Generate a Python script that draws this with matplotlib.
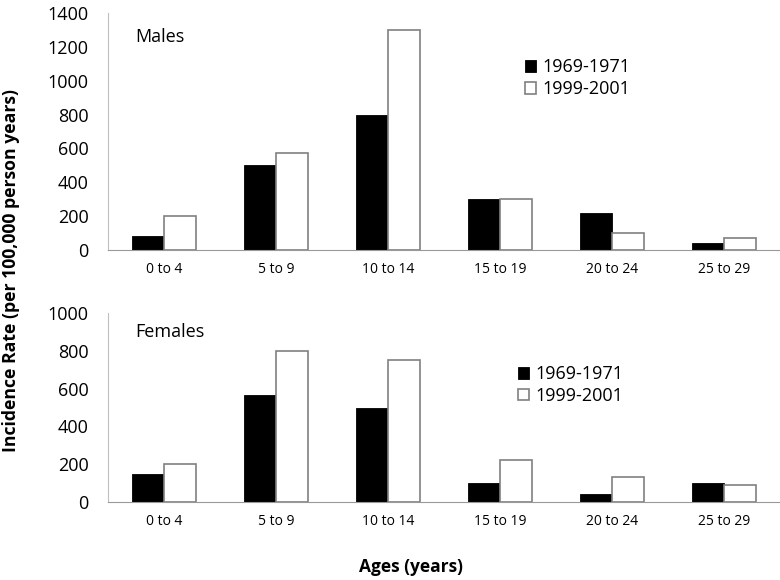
import matplotlib
matplotlib.use("Agg")
import matplotlib.pyplot as plt
import numpy as np

plt.rcParams['font.family'] = ['Open Sans', 'DejaVu Sans']

# data
ages = ['0 to 4', '5 to 9', '10 to 14', '15 to 19', '20 to 24', '25 to 29']
males_1969 = [80, 500, 800, 300, 220, 40]
males_1999 = [200, 575, 1300, 300, 100, 70]
females_1969 = [150, 568, 500, 100, 40, 100]
females_1999 = [200, 798, 750, 220, 130, 90]
periods = ['1969-1971', '1999-2001']

fig = plt.figure(figsize=(7.8, 5.8), dpi=100)
ax1 = fig.add_axes([0.1385, 0.569, 0.8615, 0.4086])
ax2 = fig.add_axes([0.1385, 0.1345, 0.8615, 0.3258])

x = np.arange(len(ages))
w = 0.2857
edge = '#808080'


def draw(ax, black, white, ymax, step, title, leg_xy):
    ax.bar(x - w / 2, black, w, color='black', edgecolor='black', linewidth=0.6, label=periods[0])
    ax.bar(x + w / 2, white, w, color='white', edgecolor=edge, linewidth=1.2, label=periods[1])
    ax.set_xlim(-0.5, len(ages) - 0.5)
    ax.set_ylim(0, ymax)
    ax.set_yticks(np.arange(0, ymax + 1, step))
    ax.set_xticks(x)
    ax.set_xticklabels(ages, fontsize=10)
    ax.tick_params(axis='y', labelsize=13, length=0, pad=14)
    ax.tick_params(axis='x', length=0, pad=9)
    for s in ['top', 'right']:
        ax.spines[s].set_visible(False)
    ax.spines['left'].set_color('#bfbfbf')
    ax.spines['bottom'].set_color('#999999')
    ax.text(0.04, 0.9, title, transform=ax.transAxes, fontsize=13, va='center', ha='left')
    ax.legend(loc='center left', bbox_to_anchor=leg_xy, bbox_transform=fig.transFigure,
              frameon=False, fontsize=13, borderpad=0, borderaxespad=0,
              handlelength=0.62, handleheight=0.62, handletextpad=0.35, labelspacing=0.2)


draw(ax1, males_1969, males_1999, 1400, 200, 'Males', (0.673, 0.865))
draw(ax2, females_1969, females_1999, 1000, 200, 'Females', (0.664, 0.336))

fig.text(0.014, 0.534, 'Incidence Rate (per 100,000 person years)', rotation=90,
         fontsize=12.7, fontweight='bold', ha='center', va='center')
fig.text(0.527, 0.022, 'Ages (years)', fontsize=12.5, fontweight='bold', ha='center', va='center')

fig.savefig('out.png', dpi=100)
